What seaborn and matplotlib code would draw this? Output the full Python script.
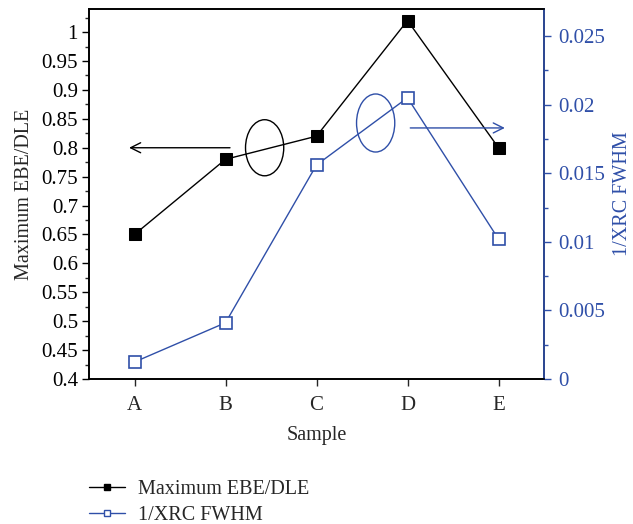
import matplotlib
matplotlib.use("Agg")
import matplotlib.pyplot as plt
import seaborn as sns
import pandas as pd
from matplotlib.patches import Ellipse
from matplotlib.ticker import MultipleLocator, FuncFormatter
from matplotlib.lines import Line2D

samples = ["A", "B", "C", "D", "E"]
ebe_dle = [0.65, 0.78, 0.82, 1.02, 0.80]
inv_xrc_fwhm = [0.00124, 0.0041, 0.0156, 0.0205, 0.0102]

sns.set_theme(style="white")
plt.rcParams["font.family"] = ["Liberation Serif", "DejaVu Serif"]
plt.rcParams["font.size"] = 14.5

BLUE = "#2f4fa8"
TICK_FS = 15
LAB_FS = 14.5
df = pd.DataFrame({"Sample": samples, "EBE": ebe_dle, "XRC": inv_xrc_fwhm})

fig = plt.figure(figsize=(6.33, 5.24), dpi=100)
ax = fig.add_axes([89/633, 1-379/524, (544-89)/633, (379-9)/524])
ax2 = ax.twinx()

sns.lineplot(data=df, x="Sample", y="EBE", ax=ax, color="black", marker="s",
             markersize=9, markerfacecolor="black", markeredgecolor="black",
             linewidth=1.0, sort=False)
sns.lineplot(data=df, x="Sample", y="XRC", ax=ax2, color=BLUE, marker="s",
             markersize=9, markerfacecolor="white", markeredgecolor=BLUE,
             markeredgewidth=1.2, linewidth=1.0, sort=False)

ax.set_xlim(-0.5, 4.5)
ax.set_ylim(0.4, 1.04)
ax2.set_ylim(0, 0.02697)

def fmt(v, p):
    s = f"{v:.3f}".rstrip("0").rstrip(".")
    return s
ax.yaxis.set_major_locator(MultipleLocator(0.05))
ax.yaxis.set_minor_locator(MultipleLocator(0.025))
ax.yaxis.set_major_formatter(FuncFormatter(fmt))
ax2.yaxis.set_major_locator(MultipleLocator(0.005))
ax2.yaxis.set_minor_locator(MultipleLocator(0.0025))
ax2.yaxis.set_major_formatter(FuncFormatter(fmt))

for a in (ax, ax2):
    for s in a.spines.values():
        s.set_linewidth(1.2)
        s.set_color("black")
ax2.spines["right"].set_color(BLUE)

ax.tick_params(axis="y", which="major", direction="out", length=5, width=1, left=True, labelsize=TICK_FS, colors="black", pad=3)
ax.tick_params(axis="y", which="minor", direction="out", length=3, width=1, left=True)
ax.tick_params(axis="x", which="major", direction="out", length=5, width=1, bottom=True, labelsize=TICK_FS, pad=7)
ax2.tick_params(axis="y", which="major", direction="out", length=5, width=1, right=True, labelsize=TICK_FS, colors=BLUE, pad=5)
ax2.tick_params(axis="y", which="minor", direction="out", length=3, width=1, right=True, colors=BLUE)

ax.set_xlabel("Sample", fontsize=LAB_FS, labelpad=8)
ax.set_ylabel("Maximum EBE/DLE", fontsize=LAB_FS, labelpad=5)
ax2.set_ylabel("1/XRC FWHM", fontsize=LAB_FS, color=BLUE, labelpad=6)

# annotations
ax.add_patch(Ellipse((1.43, 0.80), 0.42, 0.097, fill=False, edgecolor="black", linewidth=1))
ax.annotate("", xy=(-0.09, 0.80), xytext=(1.08, 0.80),
            arrowprops=dict(arrowstyle="->", color="black", lw=1, mutation_scale=18))
ax2.add_patch(Ellipse((2.65, 0.01866), 0.42, 0.00423, fill=False, edgecolor=BLUE, linewidth=1))
ax2.annotate("", xy=(4.10, 0.0183), xytext=(3.0, 0.0183),
             arrowprops=dict(arrowstyle="->", color=BLUE, lw=1, mutation_scale=18))

handles = [
    Line2D([], [], color="black", marker="s", markersize=5, markerfacecolor="black", linewidth=1),
    Line2D([], [], color=BLUE, marker="s", markersize=5, markerfacecolor="white", markeredgecolor=BLUE, linewidth=1),
]
fig.legend(handles, ["Maximum EBE/DLE", "1/XRC FWHM"], loc="lower left",
           bbox_to_anchor=(0.112, -0.036), frameon=False, fontsize=LAB_FS,
           handlelength=1.8, labelspacing=0.32, handletextpad=0.65)

fig.savefig("out.png", dpi=100)
